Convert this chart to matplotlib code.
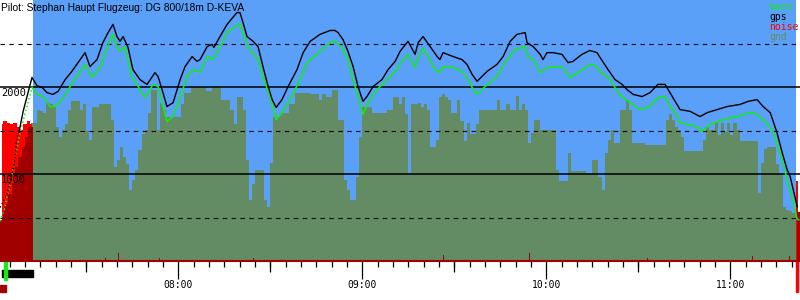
import matplotlib
matplotlib.use("Agg")
import matplotlib.pyplot as plt
from matplotlib.ticker import MultipleLocator, FixedLocator, FuncFormatter
from matplotlib.patches import Rectangle
import matplotlib.transforms as mtransforms

# time axis: minutes after 07:00, altitude in metres
title = "Pilot: Stephan Haupt Flugzeug: DG 800/18m D-KEVA"

gps_t = [1.9, 4.2, 5.1, 6.1, 6.8, 7.1, 7.4, 8.1, 9.4, 12.3,
         13.9, 15.6, 17.2, 19.1, 20.8, 23.1, 25.3, 28.0, 29.6, 31.2,
         33.5, 35.4, 37.1, 38.7, 40.0, 41.0, 42.0, 43.6, 45.2, 47.5,
         49.8, 52.4, 53.4, 55.0, 56.3, 58.3, 60.6, 62.2, 64.5, 66.1,
         67.1, 69.4, 71.0, 71.6, 73.6, 75.9, 79.1, 80.1, 81.1, 82.4,
         84.4, 86.0, 87.6, 89.3, 90.6, 91.9, 93.8, 95.8, 98.7, 100.7,
         103.0, 106.2, 109.5, 111.1, 112.1, 113.7, 115.3, 117.0, 118.6, 120.2,
         121.5, 123.5, 126.4, 128.4, 130.7, 132.3, 134.9, 137.2, 138.2, 139.8,
         142.1, 144.4, 145.3, 146.3, 149.6, 152.5, 154.1, 155.8, 157.4, 160.7,
         163.9, 165.9, 168.2, 170.4, 173.1, 173.7, 175.7, 178.0, 178.9, 180.2,
         182.2, 185.1, 187.1, 188.7, 191.6, 194.2, 196.5, 197.5, 200.1, 202.4,
         204.7, 206.3, 208.3, 211.2, 213.8, 216.4, 218.7, 220.3, 222.0, 223.6,
         226.9, 230.1, 232.4, 235.7, 238.9, 243.2, 245.8, 248.7, 250.7, 253.0,
         255.2, 256.9, 258.5, 259.5, 260.5, 261.8]
gps_alt = [615, 770, 900, 1050, 1170, 1320, 1420, 1490, 1720, 2110,
           2015, 1995, 1935, 1915, 1950, 2085, 2180, 2315, 2395, 2235,
           2315, 2510, 2625, 2720, 2580, 2525, 2580, 2455, 2200, 2085,
           2030, 2165, 2120, 1935, 1775, 1820, 2085, 2235, 2350, 2295,
           2315, 2465, 2490, 2455, 2580, 2720, 2855, 2855, 2740, 2580,
           2525, 2465, 2235, 2005, 1855, 1765, 1855, 2005, 2200, 2395,
           2525, 2605, 2650, 2650, 2625, 2545, 2410, 2235, 2005, 1835,
           1890, 2005, 2085, 2200, 2295, 2410, 2525, 2375, 2510, 2580,
           2465, 2350, 2315, 2395, 2350, 2315, 2260, 2145, 2065, 2180,
           2260, 2350, 2525, 2605, 2625, 2510, 2465, 2375, 2315, 2395,
           2395, 2375, 2280, 2295, 2375, 2420, 2395, 2340, 2200, 2085,
           2030, 1970, 1915, 1890, 1935, 2030, 2030, 1935, 1835, 1740,
           1720, 1660, 1705, 1740, 1775, 1800, 1835, 1855, 1775, 1705,
           1475, 1245, 1050, 970, 820, 625]
gps_climb = 7  # sparse fixes during the launch

baro_t = [1.9, 3.5, 4.1, 4.8, 6.4, 8.4, 12.3, 13.9, 15.9, 18.2,
          19.8, 22.1, 24.7, 28.0, 29.6, 31.9, 34.5, 36.8, 38.7, 40.0,
          41.0, 42.6, 44.9, 46.5, 49.1, 51.8, 53.4, 55.0, 56.3, 58.3,
          61.2, 63.2, 64.8, 67.1, 69.4, 71.3, 73.6, 76.2, 80.1, 81.8,
          83.4, 86.0, 87.6, 89.9, 91.9, 93.8, 96.4, 99.7, 102.0, 106.2,
          110.1, 111.8, 113.7, 115.3, 117.0, 118.6, 120.2, 121.9, 124.8, 128.1,
          131.3, 132.3, 134.9, 137.2, 138.2, 139.8, 141.4, 143.7, 145.3, 146.3,
          149.6, 152.5, 154.1, 155.8, 157.4, 160.0, 163.9, 166.5, 169.8, 173.1,
          174.0, 175.7, 178.0, 180.2, 183.5, 185.4, 187.7, 191.0, 194.2, 196.5,
          197.5, 200.8, 203.4, 205.0, 207.3, 210.6, 213.8, 216.4, 218.7, 220.3,
          222.0, 223.6, 225.9, 229.1, 230.8, 233.4, 237.6, 242.2, 246.4, 248.7,
          250.7, 253.6, 255.2, 256.9, 258.5, 260.1, 261.8, 262.3]
baro_alt = [455, 615, 740, 820, 1110, 1475, 1995, 1915, 1890, 1775,
            1775, 1855, 2005, 2180, 2260, 2110, 2225, 2455, 2605, 2465,
            2410, 2465, 2110, 2030, 1880, 2030, 2005, 1775, 1605, 1660,
            1950, 2145, 2200, 2165, 2350, 2315, 2465, 2635, 2730, 2545,
            2430, 2315, 2120, 1890, 1625, 1705, 1855, 2085, 2280, 2410,
            2525, 2510, 2430, 2315, 2085, 1890, 1685, 1820, 1970, 2085,
            2200, 2270, 2375, 2225, 2340, 2445, 2350, 2200, 2165, 2235,
            2225, 2180, 2110, 1995, 1915, 2005, 2120, 2280, 2430, 2465,
            2350, 2315, 2165, 2225, 2235, 2225, 2110, 2180, 2260, 2235,
            2180, 2085, 1935, 1880, 1820, 1740, 1775, 1880, 1890, 1775,
            1705, 1590, 1570, 1545, 1490, 1570, 1625, 1660, 1705, 1685,
            1625, 1510, 1360, 1165, 935, 740, 475, 475]
baro_climb = 6

# terrain under the track, one value per minute from 07:12
gnd_t = list(range(12, 263))
gnd_alt = [1590, 1590, 1740, 1720, 1705, 1820, 1800, 1775, 1545, 1430,
           1510, 1570, 1740, 1835, 1835, 1835, 1740, 1800, 1500, 1395,
           1775, 1775, 1800, 1800, 1800, 1800, 1625, 1085, 1165, 1315,
           1200, 1110, 820, 935, 1050, 1280, 1455, 1510, 1705, 1970,
           1970, 1510, 1820, 1740, 1660, 1660, 1660, 1660, 1660, 1800,
           1935, 1935, 1995, 1995, 1995, 1995, 1995, 1950, 1950, 1995,
           1995, 1995, 1855, 1855, 1855, 1740, 1570, 1880, 1880, 1740,
           1165, 705, 880, 1050, 1050, 1050, 705, 625, 1130, 1660,
           1660, 1705, 1705, 1705, 1800, 1800, 1935, 1935, 1935, 1935,
           1935, 1915, 1915, 1915, 1855, 1915, 1890, 1890, 1970, 1970,
           1625, 1625, 935, 820, 705, 705, 970, 1430, 1775, 1775,
           1775, 1705, 1705, 1705, 1705, 1705, 1740, 1740, 1890, 1890,
           1800, 1890, 1685, 1015, 1800, 1800, 1820, 1775, 1800, 1740,
           1315, 1315, 1395, 1880, 1915, 1880, 1855, 1705, 1705, 1855,
           1605, 1375, 1590, 1455, 1455, 1570, 1740, 1740, 1740, 1740,
           1740, 1740, 1850, 1740, 1740, 1800, 1740, 1740, 1900, 1740,
           1800, 1740, 1360, 1475, 1625, 1625, 1510, 1510, 1510, 1510,
           1510, 1050, 915, 915, 915, 1245, 1030, 1030, 1030, 1030,
           1030, 1015, 1015, 1165, 1165, 970, 820, 1245, 1395, 1510,
           1360, 1360, 1740, 1740, 1855, 1740, 1360, 1360, 1360, 1360,
           1330, 1330, 1330, 1330, 1330, 1330, 1330, 1625, 1685, 1625,
           1545, 1510, 1430, 1260, 1260, 1260, 1260, 1260, 1260, 1395,
           1535, 1510, 1510, 1590, 1450, 1590, 1480, 1590, 1450, 1590,
           1510, 1375, 1375, 1375, 1375, 1375, 1375, 785, 1130, 1290,
           1315, 1315, 1315, 1110, 995, 625, 590, 570, 555, 555,
           555]

# engine noise, dark part and loud part
noise_t = [1.9, 2.8, 3.5, 4.5, 5.8, 6.8, 7.7, 9.0, 10.0, 11.0, 12.3, 12.6,
           36.0, 36.3, 40.2, 40.6, 53.6, 53.9, 84.3, 84.6, 146.2, 146.5,
           174.2, 174.8, 212.7, 213.0, 246.9, 247.5, 259.1, 259.4, 261.6, 262.7]
noise_v = [475, 570, 650, 765, 900, 1085, 1200, 1315, 1430, 1535, 1545, 15,
           30, 15, 90, 15, 40, 15, 40, 15, 70, 15,
           95, 15, 40, 15, 55, 15, 60, 15, 560, 560]
loud_t = [2.5, 2.8, 4.1, 5.1, 6.1, 7.4, 8.4, 9.4, 10.7, 11.6, 12.3, 12.6, 261.4, 262.0]
loud_v = [1570, 1605, 1590, 1570, 1590, 1545, 1510, 1570, 1605, 1570, 1360, 0, 915, 0]

takeoff_t = 12.6
landing_t = 261.4
engine_run = (2.5, 12.6)

blue = "#5a9ff8"
gnd_col = "#648c64"
baro_col = "#11ee11"
dark_red = "#a00000"
mono = "DejaVu Sans Mono"

fig = plt.figure(figsize=(8, 3), dpi=100)
ax = fig.add_axes([0, 39 / 300, 1, 261 / 300])
ax.set_xlim(1.86, 262.7)
ax.set_ylim(0, 3000)

ax.axvspan(takeoff_t, landing_t, color=blue, lw=0, zorder=0)
ax.fill_between(gnd_t, gnd_alt, step="post", color=gnd_col, lw=0, zorder=1)
ax.fill_between(loud_t, loud_v, step="post", color="#ff0000", lw=0, zorder=1.5)
ax.fill_between(noise_t, noise_v, step="post", color=dark_red, lw=0, zorder=1.6)

for lvl in [1000, 2000]:
    ax.axhline(lvl, color="black", lw=1.1, zorder=3)
for lvl in [500, 1500, 2500]:
    ax.axhline(lvl, color="black", lw=0.8, ls=(0, (4, 4)), zorder=3)

ax.plot(baro_t[:baro_climb + 1], baro_alt[:baro_climb + 1], color=baro_col, lw=1.1, ls=":", zorder=4)
ax.plot(baro_t[baro_climb:], baro_alt[baro_climb:], color=baro_col, lw=1.1, zorder=4)
ax.plot(gps_t[:gps_climb + 1], gps_alt[:gps_climb + 1], color="black", lw=1.0, ls=":", zorder=5)
ax.plot(gps_t[gps_climb:], gps_alt[gps_climb:], color="black", lw=1.0, zorder=5)

# axes decoration
for s in ["top", "right", "left"]:
    ax.spines[s].set_visible(False)
ax.spines["bottom"].set_color(dark_red)
ax.spines["bottom"].set_linewidth(1.5)
ax.set_yticks([])

hours = [60, 120, 180, 240]
ax.xaxis.set_major_locator(FixedLocator(hours))
ax.xaxis.set_minor_locator(MultipleLocator(5))
ax.xaxis.set_major_formatter(FuncFormatter(lambda m, p: f"{7 + int(m) // 60:02d}:{int(m) % 60:02d}"))
ax.tick_params(axis="x", which="major", length=13, width=0.9, pad=1, labelsize=7)
ax.tick_params(axis="x", which="minor", length=4.3, width=0.9)
for lab in ax.get_xticklabels():
    lab.set_family(mono)

sec = ax.secondary_xaxis("bottom")
sec.set_xticks([30, 90, 150, 210])
sec.tick_params(length=8, width=0.9, labelbottom=False)
sec.spines["bottom"].set_visible(False)

ytr = ax.get_yaxis_transform()
for lvl in [2000, 1000]:
    ax.text(0.001, lvl - 15, str(lvl), transform=ytr, ha="left", va="top",
            fontsize=7.5, family=mono, zorder=6)

# flight events below the axis
btr = mtransforms.blended_transform_factory(ax.transData, ax.transAxes)
ax.add_patch(Rectangle((engine_run[0], -0.062), engine_run[1] - engine_run[0], 0.027,
                       transform=btr, color="black", clip_on=False))
ax.add_patch(Rectangle((3.2, -0.073), 0.9, 0.073, transform=btr, color=baro_col, clip_on=False))
ax.add_patch(Rectangle((1.86, -0.119), 1.9, 0.027, transform=btr, color=dark_red, clip_on=False))
ax.add_patch(Rectangle((landing_t, -0.119), 0.6, 0.119, transform=btr, color="#ff0000", clip_on=False))

fig.text(1 / 800, 1 - 8 / 300, title, fontsize=7.4, family="Liberation Sans", va="center", ha="left")
legend = [("baro", baro_col), ("gps", "black"), ("noise", "#ff0000"), ("gnd", gnd_col)]
for i, (name, col) in enumerate(legend):
    fig.text(769 / 800, 1 - (7 + 10 * i) / 300, name, color=col, fontsize=7,
             family=mono, va="center", ha="left")

fig.savefig("out.png", dpi=100)
